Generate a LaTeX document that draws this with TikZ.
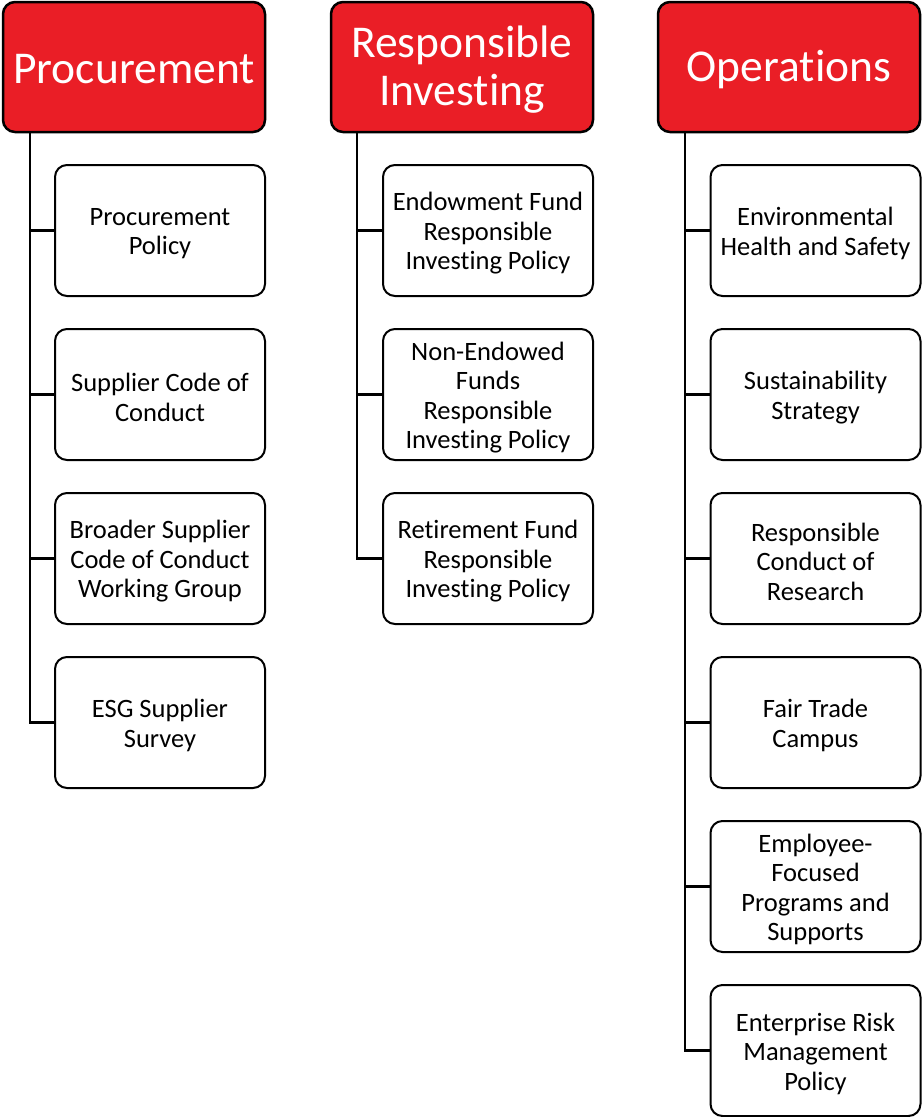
\documentclass[tikz,border=0pt]{standalone}
\usepackage{fontspec}
\setmainfont[Ligatures={NoCommon}]{Carlito}
\definecolor{hdrred}{RGB}{234,30,38}
\tikzset{
  hdr/.style={draw=black, line width=2.5pt, fill=hdrred, rounded corners=12pt,
    minimum width=262pt, minimum height=130pt, inner sep=0pt},
  hdrtext/.style={inner sep=0pt, align=center, yshift=-2.5pt,
    text=white, font=\fontsize{45.5}{48}\selectfont},
  item/.style={draw=black, line width=2pt, fill=white, rounded corners=12pt,
    minimum width=210pt, minimum height=131pt, inner sep=0pt},
  itemtext/.style={inner sep=0pt, align=center, yshift=-3pt,
    font=\fontsize{26.5}{29.5}\selectfont},
  conn/.style={draw=black, line width=2.5pt}
}
\begin{document}
\begin{tikzpicture}[x=1pt,y=-1pt]
\useasboundingbox (0,0) rectangle (922,1117);
% headers
\node[hdr] (h1) at (134,67) {};
\node[hdrtext] (h1t) at (h1) {Procurement};
\node[hdr] (h2) at (462,67) {};
\node[hdrtext] (h2t) at (h2) {Responsible\\Investing};
\node[hdr] (h3) at (789,67) {};
\node[hdrtext] (h3t) at (h3) {Operations};
% trunk tops
\coordinate (t1) at (30,132);
\coordinate (t2) at (357,132);
\coordinate (t3) at (685,132);
% column 1
\node[item] (a1) at (160,230.5) {};
\node[itemtext] (a1t) at (a1) {Procurement\\Policy};
\node[item] (a2) at (160,394.5) {};
\node[itemtext] (a2t) at (a2) {Supplier Code of\\Conduct};
\node[item] (a3) at (160,558.5) {};
\node[itemtext] (a3t) at (a3) {Broader Supplier\\Code of Conduct\\Working Group};
\node[item] (a4) at (160,722.5) {};
\node[itemtext] (a4t) at (a4) {ESG Supplier\\Survey};
% column 2
\node[item] (b1) at (488,230.5) {};
\node[itemtext] (b1t) at (b1) {Endowment Fund\\Responsible\\Investing Policy};
\node[item] (b2) at (488,394.5) {};
\node[itemtext] (b2t) at (b2) {Non-Endowed\\Funds\\Responsible\\Investing Policy};
\node[item] (b3) at (488,558.5) {};
\node[itemtext] (b3t) at (b3) {Retirement Fund\\Responsible\\Investing Policy};
% column 3
\node[item] (c1) at (815.5,230.5) {};
\node[itemtext] (c1t) at (c1) {Environmental\\Health and Safety};
\node[item] (c2) at (815.5,394.5) {};
\node[itemtext] (c2t) at (c2) {Sustainability\\Strategy};
\node[item] (c3) at (815.5,558.5) {};
\node[itemtext] (c3t) at (c3) {Responsible\\Conduct of\\Research};
\node[item] (c4) at (815.5,722.5) {};
\node[itemtext] (c4t) at (c4) {Fair Trade\\Campus};
\node[item] (c5) at (815.5,886.5) {};
\node[itemtext] (c5t) at (c5) {Employee-\\Focused\\Programs and\\Supports};
\node[item] (c6) at (815.5,1050.5) {};
\node[itemtext] (c6t) at (c6) {Enterprise Risk\\Management\\Policy};
% connectors
\draw[conn] (t1) |- (a4.west);
\foreach \n in {a1,a2,a3} \draw[conn] (\n.west -| t1) -- (\n.west);
\draw[conn] (t2) |- (b3.west);
\foreach \n in {b1,b2} \draw[conn] (\n.west -| t2) -- (\n.west);
\draw[conn] (t3) |- (c6.west);
\foreach \n in {c1,c2,c3,c4,c5} \draw[conn] (\n.west -| t3) -- (\n.west);
\end{tikzpicture}
\end{document}
